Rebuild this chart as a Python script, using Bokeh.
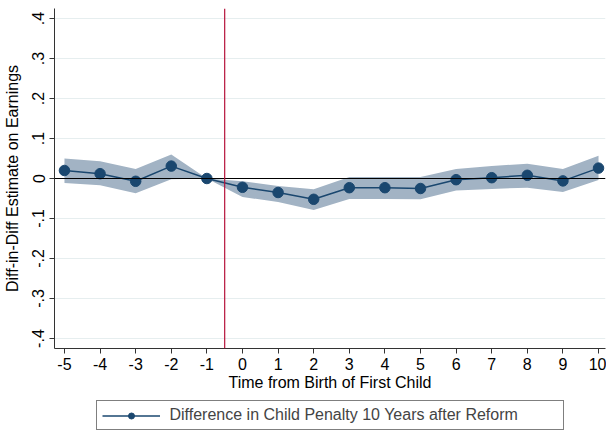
from bokeh.plotting import figure
from bokeh.layouts import column
from bokeh.models import Span, Legend, LegendItem, FixedTicker, Range1d, ColumnDataSource
from bokeh.embed import file_html
from bokeh.resources import INLINE

# Data
event_time = [-5, -4, -3, -2, -1, 0, 1, 2, 3, 4, 5, 6, 7, 8, 9, 10]
estimate = [0.020, 0.012, -0.007, 0.031, 0.000, -0.022, -0.035, -0.052,
            -0.023, -0.023, -0.025, -0.003, 0.002, 0.008, -0.006, 0.026]
ci_upper = [0.050, 0.043, 0.024, 0.060, 0.000, -0.007, -0.019, -0.027,
            0.004, 0.004, 0.004, 0.024, 0.031, 0.037, 0.024, 0.057]
ci_lower = [-0.011, -0.017, -0.037, -0.002, 0.000, -0.046, -0.059, -0.079,
            -0.051, -0.051, -0.052, -0.030, -0.026, -0.023, -0.034, -0.004]
y_ticks = [-0.4, -0.3, -0.2, -0.1, 0.0, 0.1, 0.2, 0.3, 0.4]
y_tick_labels = ["-.4", "-.3", "-.2", "-.1", "0", ".1", ".2", ".3", ".4"]
x_ticks = list(range(-5, 11))
x_tick_labels = [str(t) for t in x_ticks]
reform_line = -0.5
series_label = "Difference in Child Penalty 10 Years after Reform"
x_title = "Time from Birth of First Child"
y_title = "Diff-in-Diff Estimate on Earnings"

FONT = "Liberation Sans"
NAVY = "#1a476f"
BAND = "#a2b3c4"
FS = "16px"

src = ColumnDataSource(dict(x=event_time, y=estimate, lo=ci_lower, hi=ci_upper))

p = figure(width=606, height=393, output_backend="svg", toolbar_location=None,
           x_range=Range1d(-5.28, 10.196), y_range=Range1d(-0.4249, 0.4249),
           min_border_left=52, min_border_top=8, min_border_right=1, min_border_bottom=44)
p.outline_line_color = None

p.varea(x="x", y1="lo", y2="hi", source=src, fill_color=BAND, fill_alpha=1.0)

p.add_layout(Span(location=0, dimension="width", line_color="black", line_width=1.2))
p.add_layout(Span(location=reform_line, dimension="height", line_color="#b5123a", line_width=1.2))

ln = p.line(x="x", y="y", source=src, line_color=NAVY, line_width=1.5)
pts = p.scatter(x="x", y="y", source=src, size=10.5, fill_color=NAVY, line_color=NAVY)

# axes
p.xaxis.ticker = FixedTicker(ticks=x_ticks)
p.xaxis.major_label_overrides = {t: l for t, l in zip(x_ticks, x_tick_labels)}
p.yaxis.ticker = FixedTicker(ticks=y_ticks)
p.yaxis.major_label_overrides = {t: l for t, l in zip(y_ticks, y_tick_labels)}
p.yaxis.major_label_orientation = "vertical"
for ax in (p.xaxis[0], p.yaxis[0]):
    ax.axis_line_color = "#333333"
    ax.major_tick_line_color = "#333333"
    ax.major_tick_out = 5
    ax.major_tick_in = 0
    ax.minor_tick_line_color = None
    ax.major_label_text_font = FONT
    ax.major_label_text_font_size = FS
    ax.major_label_text_color = "black"
    ax.axis_label_text_font = FONT
    ax.axis_label_text_font_size = FS
    ax.axis_label_text_font_style = "normal"
    ax.axis_label_text_color = "black"
p.xaxis.axis_label = x_title
p.yaxis.axis_label = y_title
p.xaxis.major_label_standoff = 4
p.xaxis.axis_label_standoff = 1
p.yaxis.major_label_standoff = 5
p.yaxis.axis_label_standoff = 9

p.xgrid.grid_line_color = None
p.ygrid.grid_line_color = "#e6eeef"
p.ygrid.grid_line_width = 1

# legend panel below the chart
lg = figure(width=606, height=39, output_backend="svg", toolbar_location=None,
            x_range=Range1d(0, 1), y_range=Range1d(0, 1),
            min_border_left=52, min_border_top=5, min_border_right=1, min_border_bottom=0)
lg.axis.visible = False
lg.grid.visible = False
lg.outline_line_color = None
offscreen = ColumnDataSource(dict(x=[-10], y=[-10]))
lln = lg.line(x="x", y="y", source=offscreen, line_color=NAVY, line_width=1.5)
lpt = lg.scatter(x="x", y="y", source=offscreen, size=10.5, fill_color=NAVY, line_color=NAVY)
legend = Legend(items=[LegendItem(label=series_label, renderers=[lln, lpt])],
                location="center", orientation="horizontal",
                label_text_font=FONT, label_text_font_size=FS,
                border_line_color="black", border_line_width=1,
                glyph_width=58, glyph_height=15, padding=5, spacing=0,
                margin=0, label_standoff=10, label_width=388)
lg.add_layout(legend, "center")

layout = column(p, lg, spacing=0)
open("out.html", "w").write(file_html(layout, INLINE))
